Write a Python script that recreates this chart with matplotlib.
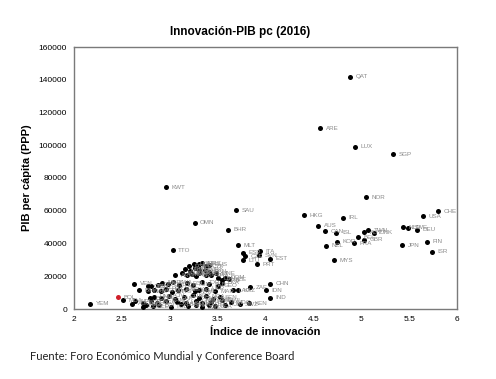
import matplotlib
matplotlib.use("Agg")
import matplotlib.pyplot as plt

plt.rcParams["font.family"] = ["Liberation Sans", "DejaVu Sans"]

# --------------- datos (índice de innovación, PIB pc PPP) ---------------
# países con PIB alto / etiquetas legibles
top_names = ["QAT", "ARE", "LUX", "SGP", "KWT", "NOR", "SAU", "CHE", "HKG", "USA",
             "IRL", "OMN", "AUS", "NLD", "SWE", "BHR", "DEU", "TWN", "CAN", "AUT",
             "ISL", "DNK", "BEL", "GBR", "KOR", "FIN", "FRA", "MLT", "JPN", "NZL",
             "TTO", "ITA", "ISR", "ESP", "SVN", "CZE", "EST", "MYS", "LTU", "SVK",
             "PRT", "CHN", "ZAF", "IDN", "IND", "KEN", "YEM", "AZE", "VEN", "BIH",
             "TJK", "MDA", "KAZ"]
top_x = [4.88, 4.57, 4.93, 5.33, 2.96, 5.05, 3.69, 5.80, 4.40, 5.64,
         4.81, 3.26, 4.55, 5.44, 5.49, 3.61, 5.58, 5.07, 4.62, 5.03,
         4.74, 5.13, 4.97, 5.03, 4.75, 5.69, 4.92, 3.71, 5.43, 4.63,
         3.03, 3.94, 5.74, 3.76, 3.93, 3.79, 4.05, 4.72, 3.76, 3.31,
         3.91, 4.05, 3.84, 4.00, 4.05, 3.83, 2.17, 3.62, 2.63, 2.68,
         3.58, 2.51, 3.71]
top_y = [141700, 110500, 99000, 94500, 74300, 68200, 60200, 59600, 57300, 56500,
         55700, 52600, 50800, 49800, 49500, 48300, 48300, 48100, 47500, 46900,
         46700, 46700, 43800, 42200, 41200, 41200, 40200, 38900, 38900, 38700,
         35900, 35200, 35100, 34200, 32800, 32200, 30800, 29900, 29700, 27700,
         27300, 15300, 13400, 11300, 6900, 3600, 3200, 18100, 15300, 11300,
         2600, 5200, 11300]

# nube de países de ingreso medio y bajo
mid_names = ["POL", "HUN", "LVA", "GRC", "CYP", "RUS",
             "HRV", "TUR", "CHL", "ROU", "URY", "PAN",
             "ARG", "BGR", "MUS", "MEX", "CRI", "IRN", "BRA", "THA", "MNE",
             "LBN", "SRB", "DOM",
             "DZA", "MKD", "COL", "BWA", "PER", "ECU", "TUN", "JOR", "ALB", "GEO", "LKA",
             "NAM", "SLV", "GTM", "PRY", "MNG", "JAM", "EGY", "ARM", "PHL", "UKR", "MAR", "LAO",
             "BGD", "HND", "NIC", "CIV", "PAK", "GHA", "KGZ", "CMR", "NGA", "ZMB", "SEN",
             "NPL", "BEN", "TZA", "UGA", "KHM", "MLI", "LSO", "GMB", "ETH", "RWA", "MWI", "MDG",
             "MOZ", "SLE", "BDI", "TCD", "LBR", "GIN", "MRT", "ZWE", "HTI", "BFA", "SWZ",
             "AGO", "COD", "CPV", "BTN"]
mid_x = [3.20, 3.25, 3.29, 3.34, 3.38, 3.41,
         3.16, 3.21, 3.26, 3.31, 3.37, 3.41,
         3.06, 3.13, 3.18, 3.23, 3.27, 3.31, 3.38, 3.43, 3.48,
         3.50, 3.55, 3.58,
         2.88, 2.92, 2.98, 3.03, 3.10, 3.18, 3.24, 3.34, 3.41, 3.50, 3.55,
         2.77, 2.84, 2.91, 2.96, 3.02, 3.09, 3.17, 3.26, 3.31, 3.38, 3.47, 3.66,
         2.79, 2.84, 2.91, 2.99, 3.06, 3.15, 3.24, 3.31, 3.38, 3.45, 3.52,
         2.64, 2.72, 2.80, 2.87, 2.96, 3.08, 3.17, 3.27, 3.34, 3.43, 3.55, 3.64,
         2.75, 2.82, 2.89, 3.01, 3.12, 3.19, 3.27, 3.34, 3.41, 3.47, 3.73,
         2.61, 2.72, 2.77, 2.80]
mid_y = [26200, 27300, 26500, 27800, 26000, 27000,
         24300, 23400, 24800, 23600, 24100, 22900,
         20600, 21800, 20900, 21500, 20300, 22200, 21000, 20500, 21700,
         18800, 17600, 19000,
         14800, 15900, 15100, 16200, 14500, 15600, 14900, 16400, 15200, 14300, 16000,
         10800, 11900, 11200, 12300, 10600, 11700, 12100, 10900, 11500, 12400, 10700, 11400,
         6500, 7600, 6900, 8100, 6300, 7400, 8300, 6700, 7800, 6100, 7200,
         4800, 3900, 4600, 3700, 5100, 4100, 3600, 4900, 3800, 4500, 5300, 4000,
         2600, 1700, 2300, 1400, 2800, 1900, 2500, 1200, 2200, 1600, 2900,
         3200, 1500, 13800, 13800]

# país destacado (en rojo)
red_name = "BOL"
red_x = 2.46
red_y = 7200

# ********** dibujo **********
fig = plt.figure(figsize=(4.96, 3.79), dpi=100)
ax = fig.add_axes([74 / 496, 1 - 309 / 379, 383 / 496, 262 / 379])

names = top_names + mid_names
xs = top_x + mid_x
ys = top_y + mid_y

ax.scatter(xs, ys, s=13, c="black", zorder=3, linewidths=0)
ax.scatter([red_x], [red_y], s=13, c="#d0202a", zorder=4, linewidths=0)

for n, x, y in zip(names + [red_name], xs + [red_x], ys + [red_y]):
    ax.annotate(n, (x, y), xytext=(4, 0), textcoords="offset points",
                fontsize=4.5, color="#8a8a8a", va="center", ha="left")

ax.set_xlim(2, 6)
ax.set_ylim(0, 160000)
ax.set_xticks([2, 2.5, 3, 3.5, 4, 4.5, 5, 5.5, 6])
ax.set_xticklabels(["2", "2.5", "3", "3.5", "4", "4.5", "5", "5.5", "6"])
ax.set_yticks(range(0, 160001, 20000))
ax.set_yticklabels([str(v) for v in range(0, 160001, 20000)])
ax.tick_params(length=0, labelsize=6, pad=5)

for sp in ax.spines.values():
    sp.set_color("#7a7a7a")
    sp.set_linewidth(1.0)

ax.set_xlabel("Índice de innovación", fontsize=8, fontweight="bold", labelpad=3)
ax.set_ylabel("PIB per cápita (PPP)", fontsize=8, fontweight="bold", labelpad=5)

fig.text(240 / 496, 1 - 32 / 379, "Innovación-PIB pc (2016)", fontsize=8.5,
         fontweight="bold", ha="center", va="center")
fig.text(30 / 496, 1 - 356 / 379, "Fuente: Foro Económico Mundial y Conference Board",
         fontsize=8, family=["Lato", "DejaVu Sans"], ha="left", va="center",
         color="#222222")

fig.savefig("out.png", dpi=100, facecolor="white")
